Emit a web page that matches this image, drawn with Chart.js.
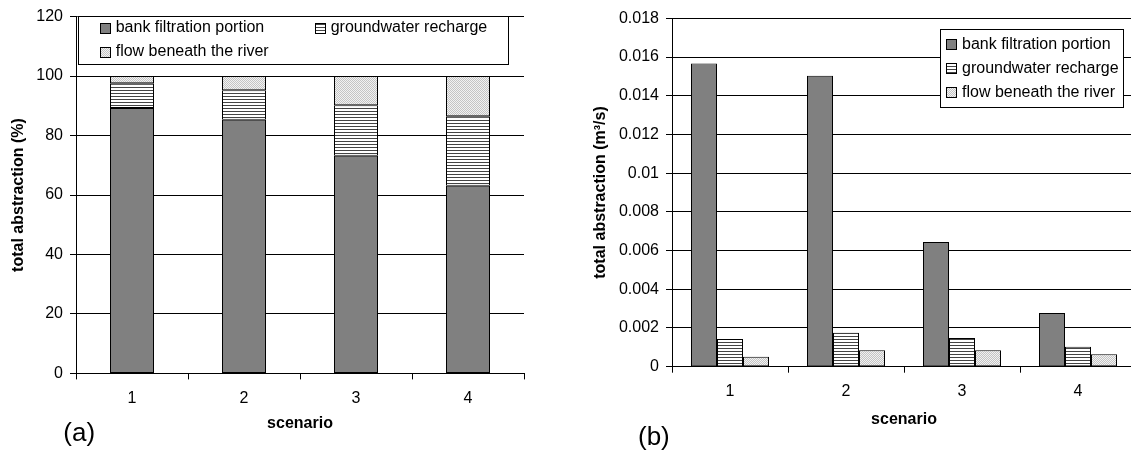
<!DOCTYPE html>
<html><head><meta charset="utf-8">
<script src="https://cdn.jsdelivr.net/npm/chart.js@4"></script>
<style>
html,body{margin:0;padding:0;width:1131px;height:453px;overflow:hidden;background:#fff;}
#chartA{position:absolute;left:0;top:0;}
#chartB{position:absolute;left:585px;top:0;}
</style></head><body>
<canvas id="chartA" width="560" height="453"></canvas>
<canvas id="chartB" width="560" height="453"></canvas>
<script>
// ---- data ----
const scenarios = ['1', '2', '3', '4'];
const seriesNames = ['bank filtration portion', 'groundwater recharge', 'flow beneath the river'];
const pctBank = [89.3, 85.3, 73.2, 63.1];
const pctRecharge = [8.3, 9.9, 17.0, 23.4];
const pctBeneath = [2.4, 4.8, 9.8, 13.5];
const flowBank = [0.01567, 0.01503, 0.00644, 0.00277];
const flowRecharge = [0.00143, 0.00176, 0.00148, 0.00103];
const flowBeneath = [0.00052, 0.00085, 0.00085, 0.00064];
const yTicksPct = ['0', '20', '40', '60', '80', '100', '120'];
const yTicksFlow = ['0', '0.002', '0.004', '0.006', '0.008', '0.01', '0.012', '0.014', '0.016', '0.018'];
const panelTags = ['(a)', '(b)'];
const xTitle = 'scenario';
const yTitles = ['total abstraction (%)', 'total abstraction (m\u00B3/s)'];

const FAMILY = "'Liberation Sans', Arial, Helvetica, sans-serif";

function makePattern(ctx, w, h, draw) {
  const c = document.createElement('canvas');
  c.width = w; c.height = h;
  const x = c.getContext('2d');
  draw(x);
  return ctx.createPattern(c, 'repeat');
}
function fills(ctx) {
  const stripes = makePattern(ctx, 4, 3, x => {
    x.fillStyle = '#fff'; x.fillRect(0, 0, 4, 3);
    x.fillStyle = '#444'; x.fillRect(0, 0, 4, 1);
  });
  const dots = makePattern(ctx, 2, 2, x => {
    x.fillStyle = '#f2f2f2'; x.fillRect(0, 0, 2, 2);
    x.fillStyle = '#c4c4c4'; x.fillRect(0, 0, 1, 1); x.fillRect(1, 1, 1, 1);
  });
  return ['#808080', stripes, dots];
}

const boxLegend = {
  id: 'boxLegend',
  afterDatasetsDraw(chart, args, o) {
    const ctx = chart.ctx;
    ctx.save();
    const [bx, by, bw, bh] = o.box;
    ctx.fillStyle = '#fff';
    ctx.fillRect(bx, by, bw, bh);
    ctx.strokeStyle = '#000'; ctx.lineWidth = 1;
    ctx.strokeRect(Math.round(bx) + 0.5, Math.round(by) + 0.5, Math.round(bw), Math.round(bh));
    ctx.font = '16px ' + FAMILY;
    ctx.textBaseline = 'middle';
    chart.data.datasets.forEach((ds, i) => {
      const [sx, sy] = o.items[i];
      const x0 = Math.round(sx), y0 = Math.round(sy - 5.5);
      ctx.fillStyle = ds.backgroundColor;
      ctx.fillRect(x0, y0, 11, 11);
      ctx.strokeStyle = '#000';
      ctx.strokeRect(x0 + 0.5, y0 + 0.5, 10, 10);
      ctx.fillStyle = '#000';
      ctx.fillText(ds.label, sx + 15.7, sy);
    });
    ctx.font = '26px ' + FAMILY;
    ctx.textBaseline = 'alphabetic';
    ctx.fillStyle = '#000';
    ctx.fillText(o.tag, o.tagPos[0], o.tagPos[1]);
    ctx.restore();
  }
};

function tickFont() { return { size: 16, family: FAMILY }; }
function titleFont() { return { size: 16, family: FAMILY, weight: 'bold' }; }

function makeChart(id, o) {
  const ctx = document.getElementById(id).getContext('2d');
  const f = fills(ctx);
  const series = o.series;
  return new Chart(ctx, {
    type: 'bar',
    data: {
      labels: scenarios,
      datasets: series.map((d, i) => ({
        label: seriesNames[i], data: d, backgroundColor: f[i],
        borderColor: '#000', borderWidth: 1, borderSkipped: false, inflateAmount: 0,
        categoryPercentage: o.catPct, barPercentage: o.barPct
      }))
    },
    options: {
      responsive: false, animation: false, devicePixelRatio: 1,
      layout: { padding: o.padding },
      plugins: { legend: { display: false }, tooltip: { enabled: false }, boxLegend: o.legend },
      scales: {
        x: {
          stacked: o.stacked,
          grid: { offset: true, drawOnChartArea: false, drawTicks: true, tickLength: 6, color: '#000', lineWidth: 1 },
          border: { color: '#000', width: 1 },
          ticks: { padding: o.xTickPad, color: '#000', font: tickFont(), maxRotation: 0 },
          title: { display: true, text: xTitle, color: '#000', font: titleFont(), padding: { top: 0, bottom: o.xTitlePad } },
          afterFit(s) { s.height = o.xHeight; }
        },
        y: {
          stacked: o.stacked, min: 0, max: o.yMax,
          grid: { color: '#000', lineWidth: 1, tickLength: 6 },
          border: { color: '#000', width: 1 },
          ticks: { stepSize: o.yStep, padding: 7, color: '#000', font: tickFont(),
                   callback: (v, i) => o.yLabels[i] !== undefined ? o.yLabels[i] : v },
          title: { display: true, text: o.yTitle, color: '#000', font: titleFont(), padding: { top: o.yTitlePad, bottom: 0 } },
          afterFit(s) { s.width = o.yWidth; }
        }
      }
    },
    plugins: [boxLegend]
  });
}

makeChart('chartA', {
  series: [pctBank, pctRecharge, pctBeneath],
  stacked: true, catPct: 1, barPct: 44 / 112,
  padding: { left: 0, top: 15, right: 36, bottom: 0 },
  xHeight: 79.6, yWidth: 76, xTickPad: 10, xTitlePad: 19.8, yTitlePad: 8.8,
  yMax: 120, yStep: 20, yLabels: yTicksPct, yTitle: yTitles[0],
  legend: { box: [77.7, 16, 430, 48.3], items: [[100, 28], [315, 28], [100, 52]], tag: panelTags[0], tagPos: [63.3, 441] }
});

makeChart('chartB', {
  series: [flowBank, flowRecharge, flowBeneath],
  stacked: false, catPct: 78 / 116, barPct: 1,
  padding: { left: 0, top: 18.3, right: 9, bottom: 0 },
  xHeight: 86.3, yWidth: 87, xTickPad: 9.4, xTitlePad: 23.8, yTitlePad: 6.4,
  yMax: 0.018, yStep: 0.002, yLabels: yTicksFlow, yTitle: yTitles[1],
  legend: { box: [355, 29.3, 183, 78], items: [[361.3, 44.7], [361.3, 68.7], [361.3, 92.8]], tag: panelTags[1], tagPos: [53, 444.5] }
});
</script>
</body></html>
